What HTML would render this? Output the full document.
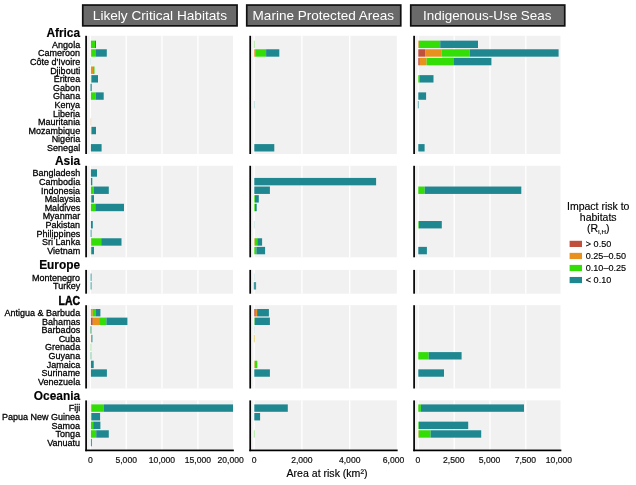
<!DOCTYPE html>
<html><head><meta charset="utf-8"><title>Area at risk</title>
<style>html,body{margin:0;padding:0;background:#fff}svg{display:block}text{font-family:"Liberation Sans",sans-serif}</style></head>
<body>
<svg width="636" height="485" viewBox="0 0 636 485" style="will-change:transform">
<rect x="0" y="0" width="636" height="485" fill="#ffffff"/>
<rect x="82.75" y="5.05" width="154.30" height="20.8" fill="#696969" stroke="#101010" stroke-width="1.7"/>
<text x="159.90" y="20.3" font-size="13.65" fill="#ffffff" text-anchor="middle">Likely Critical Habitats</text>
<rect x="246.75" y="5.05" width="154.00" height="20.8" fill="#696969" stroke="#101010" stroke-width="1.7"/>
<text x="323.35" y="20.3" font-size="13.55" fill="#ffffff" text-anchor="middle">Marine Protected Areas</text>
<rect x="410.75" y="5.05" width="154.00" height="20.8" fill="#696969" stroke="#101010" stroke-width="1.7"/>
<text x="487.25" y="20.3" font-size="13.45" fill="#ffffff" text-anchor="middle">Indigenous-Use Seas</text>
<rect x="86.90" y="35.80" width="146.10" height="118.20" fill="#f1f1f1"/>
<rect x="89.75" y="35.80" width="1.3" height="118.20" fill="#ffffff"/>
<rect x="125.55" y="35.80" width="1.3" height="118.20" fill="#ffffff"/>
<rect x="161.35" y="35.80" width="1.3" height="118.20" fill="#ffffff"/>
<rect x="197.25" y="35.80" width="1.3" height="118.20" fill="#ffffff"/>
<rect x="85.25" y="35.80" width="1.7" height="118.20" fill="#000000"/>
<rect x="90.90" y="40.65" width="4.10" height="7.4" fill="#32de06"/>
<rect x="95.00" y="40.65" width="1.00" height="7.4" fill="#1f8790"/>
<rect x="90.90" y="49.27" width="1.10" height="7.4" fill="#e8911c"/>
<rect x="92.00" y="49.27" width="4.00" height="7.4" fill="#32de06"/>
<rect x="96.00" y="49.27" width="10.80" height="7.4" fill="#1f8790"/>
<rect x="90.40" y="57.89" width="0.60" height="7.4" fill="#c5e3e3"/>
<rect x="90.90" y="66.51" width="2.10" height="7.4" fill="#e8911c"/>
<rect x="93.00" y="66.51" width="1.50" height="7.4" fill="#32de06"/>
<rect x="90.90" y="75.13" width="0.90" height="7.4" fill="#32de06"/>
<rect x="91.80" y="75.13" width="6.20" height="7.4" fill="#1f8790"/>
<rect x="90.40" y="83.75" width="1.50" height="7.4" fill="#4a9ea4"/>
<rect x="90.90" y="92.37" width="4.90" height="7.4" fill="#32de06"/>
<rect x="95.80" y="92.37" width="7.90" height="7.4" fill="#1f8790"/>
<rect x="90.40" y="118.23" width="0.80" height="7.4" fill="#ecd9c0"/>
<rect x="90.90" y="126.85" width="0.30" height="7.4" fill="#e8911c"/>
<rect x="91.20" y="126.85" width="0.70" height="7.4" fill="#32de06"/>
<rect x="91.90" y="126.85" width="4.10" height="7.4" fill="#1f8790"/>
<rect x="90.90" y="144.09" width="10.70" height="7.4" fill="#1f8790"/>
<rect x="86.90" y="165.80" width="146.10" height="91.50" fill="#f1f1f1"/>
<rect x="89.75" y="165.80" width="1.3" height="91.50" fill="#ffffff"/>
<rect x="125.55" y="165.80" width="1.3" height="91.50" fill="#ffffff"/>
<rect x="161.35" y="165.80" width="1.3" height="91.50" fill="#ffffff"/>
<rect x="197.25" y="165.80" width="1.3" height="91.50" fill="#ffffff"/>
<rect x="85.25" y="165.80" width="1.7" height="91.50" fill="#000000"/>
<rect x="90.90" y="169.30" width="6.10" height="7.4" fill="#1f8790"/>
<rect x="90.90" y="177.92" width="1.40" height="7.4" fill="#1f8790"/>
<rect x="90.90" y="186.54" width="2.90" height="7.4" fill="#32de06"/>
<rect x="93.80" y="186.54" width="15.00" height="7.4" fill="#1f8790"/>
<rect x="90.90" y="195.16" width="0.50" height="7.4" fill="#32de06"/>
<rect x="91.40" y="195.16" width="2.60" height="7.4" fill="#1f8790"/>
<rect x="90.90" y="203.78" width="0.00" height="7.4" fill="#e8911c"/>
<rect x="90.90" y="203.78" width="4.40" height="7.4" fill="#32de06"/>
<rect x="95.30" y="203.78" width="28.70" height="7.4" fill="#1f8790"/>
<rect x="90.90" y="221.02" width="1.90" height="7.4" fill="#1f8790"/>
<rect x="90.40" y="229.64" width="1.50" height="7.4" fill="#7fc0c3"/>
<rect x="90.90" y="238.26" width="0.30" height="7.4" fill="#e8911c"/>
<rect x="91.20" y="238.26" width="10.00" height="7.4" fill="#32de06"/>
<rect x="101.20" y="238.26" width="20.30" height="7.4" fill="#1f8790"/>
<rect x="90.90" y="246.88" width="0.40" height="7.4" fill="#32de06"/>
<rect x="91.30" y="246.88" width="2.70" height="7.4" fill="#1f8790"/>
<rect x="86.90" y="269.90" width="146.10" height="23.80" fill="#f1f1f1"/>
<rect x="89.75" y="269.90" width="1.3" height="23.80" fill="#ffffff"/>
<rect x="125.55" y="269.90" width="1.3" height="23.80" fill="#ffffff"/>
<rect x="161.35" y="269.90" width="1.3" height="23.80" fill="#ffffff"/>
<rect x="197.25" y="269.90" width="1.3" height="23.80" fill="#ffffff"/>
<rect x="85.25" y="269.90" width="1.7" height="23.80" fill="#000000"/>
<rect x="90.40" y="273.50" width="1.50" height="7.4" fill="#7fc0c3"/>
<rect x="90.40" y="282.12" width="1.50" height="7.4" fill="#7fc0c3"/>
<rect x="86.90" y="305.20" width="146.10" height="83.30" fill="#f1f1f1"/>
<rect x="89.75" y="305.20" width="1.3" height="83.30" fill="#ffffff"/>
<rect x="125.55" y="305.20" width="1.3" height="83.30" fill="#ffffff"/>
<rect x="161.35" y="305.20" width="1.3" height="83.30" fill="#ffffff"/>
<rect x="197.25" y="305.20" width="1.3" height="83.30" fill="#ffffff"/>
<rect x="85.25" y="305.20" width="1.7" height="83.30" fill="#000000"/>
<rect x="90.90" y="309.00" width="0.70" height="7.4" fill="#c0503c"/>
<rect x="91.60" y="309.00" width="1.20" height="7.4" fill="#e8911c"/>
<rect x="92.80" y="309.00" width="3.20" height="7.4" fill="#32de06"/>
<rect x="96.00" y="309.00" width="4.40" height="7.4" fill="#1f8790"/>
<rect x="90.90" y="317.62" width="1.90" height="7.4" fill="#c0503c"/>
<rect x="92.80" y="317.62" width="6.30" height="7.4" fill="#e8911c"/>
<rect x="99.10" y="317.62" width="7.30" height="7.4" fill="#32de06"/>
<rect x="106.40" y="317.62" width="21.00" height="7.4" fill="#1f8790"/>
<rect x="90.40" y="326.24" width="1.10" height="7.4" fill="#4caf78"/>
<rect x="90.90" y="334.86" width="0.20" height="7.4" fill="#e8911c"/>
<rect x="91.10" y="334.86" width="0.90" height="7.4" fill="#32de06"/>
<rect x="92.00" y="334.86" width="0.40" height="7.4" fill="#1f8790"/>
<rect x="90.40" y="343.48" width="1.00" height="7.4" fill="#b5e6b0"/>
<rect x="90.40" y="352.10" width="1.10" height="7.4" fill="#8fd0b0"/>
<rect x="90.90" y="360.72" width="2.80" height="7.4" fill="#1f8790"/>
<rect x="90.90" y="369.34" width="16.00" height="7.4" fill="#1f8790"/>
<rect x="86.90" y="400.40" width="146.10" height="49.90" fill="#f1f1f1"/>
<rect x="89.75" y="400.40" width="1.3" height="49.90" fill="#ffffff"/>
<rect x="125.55" y="400.40" width="1.3" height="49.90" fill="#ffffff"/>
<rect x="161.35" y="400.40" width="1.3" height="49.90" fill="#ffffff"/>
<rect x="197.25" y="400.40" width="1.3" height="49.90" fill="#ffffff"/>
<rect x="85.25" y="400.40" width="1.7" height="50.80" fill="#000000"/>
<rect x="90.90" y="404.40" width="0.60" height="7.4" fill="#e8911c"/>
<rect x="91.50" y="404.40" width="12.40" height="7.4" fill="#32de06"/>
<rect x="103.90" y="404.40" width="129.10" height="7.4" fill="#1f8790"/>
<rect x="90.90" y="413.02" width="1.10" height="7.4" fill="#32de06"/>
<rect x="92.00" y="413.02" width="8.10" height="7.4" fill="#1f8790"/>
<rect x="90.90" y="421.64" width="2.30" height="7.4" fill="#32de06"/>
<rect x="93.20" y="421.64" width="7.20" height="7.4" fill="#1f8790"/>
<rect x="90.90" y="430.26" width="5.30" height="7.4" fill="#32de06"/>
<rect x="96.20" y="430.26" width="12.60" height="7.4" fill="#1f8790"/>
<rect x="90.90" y="438.88" width="0.90" height="7.4" fill="#1f8790"/>
<rect x="85.25" y="449.55" width="148.60" height="1.7" fill="#000000"/>
<text x="90.50" y="462.8" font-size="8.6" fill="#111" stroke="#111" stroke-width="0.2" text-anchor="middle">0</text>
<text x="126.20" y="462.8" font-size="8.6" fill="#111" stroke="#111" stroke-width="0.2" text-anchor="middle">5,000</text>
<text x="162.00" y="462.8" font-size="8.6" fill="#111" stroke="#111" stroke-width="0.2" text-anchor="middle">10,000</text>
<text x="197.90" y="462.8" font-size="8.6" fill="#111" stroke="#111" stroke-width="0.2" text-anchor="middle">15,000</text>
<text x="230.60" y="462.8" font-size="8.6" fill="#111" stroke="#111" stroke-width="0.2" text-anchor="middle">20,000</text>
<rect x="251.00" y="35.80" width="145.80" height="118.20" fill="#f1f1f1"/>
<rect x="253.45" y="35.80" width="1.3" height="118.20" fill="#ffffff"/>
<rect x="301.25" y="35.80" width="1.3" height="118.20" fill="#ffffff"/>
<rect x="349.05" y="35.80" width="1.3" height="118.20" fill="#ffffff"/>
<rect x="249.35" y="35.80" width="1.7" height="118.20" fill="#000000"/>
<rect x="253.80" y="40.65" width="1.10" height="7.4" fill="#b5ecaa"/>
<rect x="254.30" y="49.27" width="0.90" height="7.4" fill="#e8911c"/>
<rect x="255.20" y="49.27" width="10.90" height="7.4" fill="#32de06"/>
<rect x="266.10" y="49.27" width="13.20" height="7.4" fill="#1f8790"/>
<rect x="253.80" y="100.99" width="1.10" height="7.4" fill="#c5e3e3"/>
<rect x="254.30" y="144.09" width="20.00" height="7.4" fill="#1f8790"/>
<rect x="251.00" y="165.80" width="145.80" height="91.50" fill="#f1f1f1"/>
<rect x="253.45" y="165.80" width="1.3" height="91.50" fill="#ffffff"/>
<rect x="301.25" y="165.80" width="1.3" height="91.50" fill="#ffffff"/>
<rect x="349.05" y="165.80" width="1.3" height="91.50" fill="#ffffff"/>
<rect x="249.35" y="165.80" width="1.7" height="91.50" fill="#000000"/>
<rect x="254.30" y="177.92" width="121.80" height="7.4" fill="#1f8790"/>
<rect x="254.30" y="186.54" width="15.60" height="7.4" fill="#1f8790"/>
<rect x="254.30" y="195.16" width="0.70" height="7.4" fill="#32de06"/>
<rect x="255.00" y="195.16" width="3.80" height="7.4" fill="#1f8790"/>
<rect x="254.30" y="203.78" width="0.70" height="7.4" fill="#32de06"/>
<rect x="255.00" y="203.78" width="1.70" height="7.4" fill="#1f8790"/>
<rect x="253.80" y="221.02" width="1.10" height="7.4" fill="#d5ebeb"/>
<rect x="254.30" y="238.26" width="0.50" height="7.4" fill="#e8911c"/>
<rect x="254.80" y="238.26" width="2.50" height="7.4" fill="#32de06"/>
<rect x="257.30" y="238.26" width="4.80" height="7.4" fill="#1f8790"/>
<rect x="254.30" y="246.88" width="2.10" height="7.4" fill="#32de06"/>
<rect x="256.40" y="246.88" width="8.70" height="7.4" fill="#1f8790"/>
<rect x="251.00" y="269.90" width="145.80" height="23.80" fill="#f1f1f1"/>
<rect x="253.45" y="269.90" width="1.3" height="23.80" fill="#ffffff"/>
<rect x="301.25" y="269.90" width="1.3" height="23.80" fill="#ffffff"/>
<rect x="349.05" y="269.90" width="1.3" height="23.80" fill="#ffffff"/>
<rect x="249.35" y="269.90" width="1.7" height="23.80" fill="#000000"/>
<rect x="253.80" y="273.50" width="1.10" height="7.4" fill="#dfeeee"/>
<rect x="253.80" y="282.12" width="2.30" height="7.4" fill="#3d9aa0"/>
<rect x="251.00" y="305.20" width="145.80" height="83.30" fill="#f1f1f1"/>
<rect x="253.45" y="305.20" width="1.3" height="83.30" fill="#ffffff"/>
<rect x="301.25" y="305.20" width="1.3" height="83.30" fill="#ffffff"/>
<rect x="349.05" y="305.20" width="1.3" height="83.30" fill="#ffffff"/>
<rect x="249.35" y="305.20" width="1.7" height="83.30" fill="#000000"/>
<rect x="254.30" y="309.00" width="1.50" height="7.4" fill="#c0503c"/>
<rect x="255.80" y="309.00" width="1.30" height="7.4" fill="#e8911c"/>
<rect x="257.10" y="309.00" width="11.80" height="7.4" fill="#1f8790"/>
<rect x="254.30" y="317.62" width="0.40" height="7.4" fill="#32de06"/>
<rect x="254.70" y="317.62" width="15.20" height="7.4" fill="#1f8790"/>
<rect x="253.80" y="326.24" width="1.10" height="7.4" fill="#dfeeee"/>
<rect x="253.80" y="334.86" width="1.10" height="7.4" fill="#e8d88a"/>
<rect x="254.30" y="360.72" width="0.50" height="7.4" fill="#e8911c"/>
<rect x="254.80" y="360.72" width="2.50" height="7.4" fill="#32de06"/>
<rect x="254.30" y="369.34" width="15.60" height="7.4" fill="#1f8790"/>
<rect x="251.00" y="400.40" width="145.80" height="49.90" fill="#f1f1f1"/>
<rect x="253.45" y="400.40" width="1.3" height="49.90" fill="#ffffff"/>
<rect x="301.25" y="400.40" width="1.3" height="49.90" fill="#ffffff"/>
<rect x="349.05" y="400.40" width="1.3" height="49.90" fill="#ffffff"/>
<rect x="249.35" y="400.40" width="1.7" height="50.80" fill="#000000"/>
<rect x="254.30" y="404.40" width="33.50" height="7.4" fill="#1f8790"/>
<rect x="254.30" y="413.02" width="5.80" height="7.4" fill="#1f8790"/>
<rect x="253.80" y="430.26" width="1.10" height="7.4" fill="#b5ecaa"/>
<rect x="249.35" y="449.55" width="148.30" height="1.7" fill="#000000"/>
<text x="254.20" y="462.8" font-size="8.6" fill="#111" stroke="#111" stroke-width="0.2" text-anchor="middle">0</text>
<text x="301.90" y="462.8" font-size="8.6" fill="#111" stroke="#111" stroke-width="0.2" text-anchor="middle">2,000</text>
<text x="349.70" y="462.8" font-size="8.6" fill="#111" stroke="#111" stroke-width="0.2" text-anchor="middle">4,000</text>
<text x="393.50" y="462.8" font-size="8.6" fill="#111" stroke="#111" stroke-width="0.2" text-anchor="middle">6,000</text>
<rect x="414.90" y="35.80" width="145.60" height="118.20" fill="#f1f1f1"/>
<rect x="417.55" y="35.80" width="1.3" height="118.20" fill="#ffffff"/>
<rect x="453.55" y="35.80" width="1.3" height="118.20" fill="#ffffff"/>
<rect x="489.35" y="35.80" width="1.3" height="118.20" fill="#ffffff"/>
<rect x="525.15" y="35.80" width="1.3" height="118.20" fill="#ffffff"/>
<rect x="413.25" y="35.80" width="1.7" height="118.20" fill="#000000"/>
<rect x="418.30" y="40.65" width="0.60" height="7.4" fill="#e8911c"/>
<rect x="418.90" y="40.65" width="21.30" height="7.4" fill="#32de06"/>
<rect x="440.20" y="40.65" width="37.80" height="7.4" fill="#1f8790"/>
<rect x="418.30" y="49.27" width="6.80" height="7.4" fill="#c0503c"/>
<rect x="425.10" y="49.27" width="16.30" height="7.4" fill="#e8911c"/>
<rect x="441.40" y="49.27" width="28.30" height="7.4" fill="#32de06"/>
<rect x="469.70" y="49.27" width="88.90" height="7.4" fill="#1f8790"/>
<rect x="418.30" y="57.89" width="1.50" height="7.4" fill="#c0503c"/>
<rect x="419.80" y="57.89" width="6.80" height="7.4" fill="#e8911c"/>
<rect x="426.60" y="57.89" width="27.40" height="7.4" fill="#32de06"/>
<rect x="454.00" y="57.89" width="37.40" height="7.4" fill="#1f8790"/>
<rect x="418.30" y="75.13" width="1.70" height="7.4" fill="#32de06"/>
<rect x="420.00" y="75.13" width="13.50" height="7.4" fill="#1f8790"/>
<rect x="418.30" y="92.37" width="7.80" height="7.4" fill="#1f8790"/>
<rect x="417.80" y="100.99" width="1.00" height="7.4" fill="#6ab2b6"/>
<rect x="418.30" y="144.09" width="6.30" height="7.4" fill="#1f8790"/>
<rect x="414.90" y="165.80" width="145.60" height="91.50" fill="#f1f1f1"/>
<rect x="417.55" y="165.80" width="1.3" height="91.50" fill="#ffffff"/>
<rect x="453.55" y="165.80" width="1.3" height="91.50" fill="#ffffff"/>
<rect x="489.35" y="165.80" width="1.3" height="91.50" fill="#ffffff"/>
<rect x="525.15" y="165.80" width="1.3" height="91.50" fill="#ffffff"/>
<rect x="413.25" y="165.80" width="1.7" height="91.50" fill="#000000"/>
<rect x="418.30" y="186.54" width="6.40" height="7.4" fill="#32de06"/>
<rect x="424.70" y="186.54" width="96.60" height="7.4" fill="#1f8790"/>
<rect x="418.30" y="221.02" width="0.60" height="7.4" fill="#32de06"/>
<rect x="418.90" y="221.02" width="22.90" height="7.4" fill="#1f8790"/>
<rect x="418.30" y="246.88" width="8.60" height="7.4" fill="#1f8790"/>
<rect x="414.90" y="269.90" width="145.60" height="23.80" fill="#f1f1f1"/>
<rect x="417.55" y="269.90" width="1.3" height="23.80" fill="#ffffff"/>
<rect x="453.55" y="269.90" width="1.3" height="23.80" fill="#ffffff"/>
<rect x="489.35" y="269.90" width="1.3" height="23.80" fill="#ffffff"/>
<rect x="525.15" y="269.90" width="1.3" height="23.80" fill="#ffffff"/>
<rect x="413.25" y="269.90" width="1.7" height="23.80" fill="#000000"/>
<rect x="414.90" y="305.20" width="145.60" height="83.30" fill="#f1f1f1"/>
<rect x="417.55" y="305.20" width="1.3" height="83.30" fill="#ffffff"/>
<rect x="453.55" y="305.20" width="1.3" height="83.30" fill="#ffffff"/>
<rect x="489.35" y="305.20" width="1.3" height="83.30" fill="#ffffff"/>
<rect x="525.15" y="305.20" width="1.3" height="83.30" fill="#ffffff"/>
<rect x="413.25" y="305.20" width="1.7" height="83.30" fill="#000000"/>
<rect x="418.30" y="352.10" width="10.40" height="7.4" fill="#32de06"/>
<rect x="428.70" y="352.10" width="32.90" height="7.4" fill="#1f8790"/>
<rect x="418.30" y="369.34" width="25.70" height="7.4" fill="#1f8790"/>
<rect x="414.90" y="400.40" width="145.60" height="49.90" fill="#f1f1f1"/>
<rect x="417.55" y="400.40" width="1.3" height="49.90" fill="#ffffff"/>
<rect x="453.55" y="400.40" width="1.3" height="49.90" fill="#ffffff"/>
<rect x="489.35" y="400.40" width="1.3" height="49.90" fill="#ffffff"/>
<rect x="525.15" y="400.40" width="1.3" height="49.90" fill="#ffffff"/>
<rect x="413.25" y="400.40" width="1.7" height="50.80" fill="#000000"/>
<rect x="418.30" y="404.40" width="2.60" height="7.4" fill="#32de06"/>
<rect x="420.90" y="404.40" width="103.10" height="7.4" fill="#1f8790"/>
<rect x="418.30" y="421.64" width="0.60" height="7.4" fill="#32de06"/>
<rect x="418.90" y="421.64" width="49.30" height="7.4" fill="#1f8790"/>
<rect x="418.30" y="430.26" width="0.40" height="7.4" fill="#e8911c"/>
<rect x="418.70" y="430.26" width="11.90" height="7.4" fill="#32de06"/>
<rect x="430.60" y="430.26" width="50.60" height="7.4" fill="#1f8790"/>
<rect x="413.25" y="449.55" width="148.10" height="1.7" fill="#000000"/>
<text x="418.00" y="462.8" font-size="8.6" fill="#111" stroke="#111" stroke-width="0.2" text-anchor="middle">0</text>
<text x="453.80" y="462.8" font-size="8.6" fill="#111" stroke="#111" stroke-width="0.2" text-anchor="middle">2,500</text>
<text x="489.60" y="462.8" font-size="8.6" fill="#111" stroke="#111" stroke-width="0.2" text-anchor="middle">5,000</text>
<text x="525.40" y="462.8" font-size="8.6" fill="#111" stroke="#111" stroke-width="0.2" text-anchor="middle">7,500</text>
<text x="559.00" y="462.8" font-size="8.6" fill="#111" stroke="#111" stroke-width="0.2" text-anchor="middle">10,000</text>
<text x="80.1" y="36.80" font-size="11.9" font-weight="bold" fill="#000" stroke="#000" stroke-width="0.15" text-anchor="end">Africa</text>
<text x="80.15" y="47.65" font-size="9.0" fill="#000" stroke="#000" stroke-width="0.28" text-anchor="end">Angola</text>
<text x="80.15" y="56.27" font-size="9.0" fill="#000" stroke="#000" stroke-width="0.28" text-anchor="end">Cameroon</text>
<text x="80.15" y="64.89" font-size="9.0" fill="#000" stroke="#000" stroke-width="0.28" text-anchor="end">Côte d'Ivoire</text>
<text x="80.15" y="73.51" font-size="9.0" fill="#000" stroke="#000" stroke-width="0.28" text-anchor="end">Djibouti</text>
<text x="80.15" y="82.13" font-size="9.0" fill="#000" stroke="#000" stroke-width="0.28" text-anchor="end">Eritrea</text>
<text x="80.15" y="90.75" font-size="9.0" fill="#000" stroke="#000" stroke-width="0.28" text-anchor="end">Gabon</text>
<text x="80.15" y="99.37" font-size="9.0" fill="#000" stroke="#000" stroke-width="0.28" text-anchor="end">Ghana</text>
<text x="80.15" y="107.99" font-size="9.0" fill="#000" stroke="#000" stroke-width="0.28" text-anchor="end">Kenya</text>
<text x="80.15" y="116.61" font-size="9.0" fill="#000" stroke="#000" stroke-width="0.28" text-anchor="end">Liberia</text>
<text x="80.15" y="125.23" font-size="9.0" fill="#000" stroke="#000" stroke-width="0.28" text-anchor="end">Mauritania</text>
<text x="80.15" y="133.85" font-size="9.0" fill="#000" stroke="#000" stroke-width="0.28" text-anchor="end">Mozambique</text>
<text x="80.15" y="142.47" font-size="9.0" fill="#000" stroke="#000" stroke-width="0.28" text-anchor="end">Nigeria</text>
<text x="80.15" y="151.09" font-size="9.0" fill="#000" stroke="#000" stroke-width="0.28" text-anchor="end">Senegal</text>
<text x="80.1" y="165.40" font-size="11.9" font-weight="bold" fill="#000" stroke="#000" stroke-width="0.15" text-anchor="end">Asia</text>
<text x="80.15" y="176.30" font-size="9.0" fill="#000" stroke="#000" stroke-width="0.28" text-anchor="end">Bangladesh</text>
<text x="80.15" y="184.92" font-size="9.0" fill="#000" stroke="#000" stroke-width="0.28" text-anchor="end">Cambodia</text>
<text x="80.15" y="193.54" font-size="9.0" fill="#000" stroke="#000" stroke-width="0.28" text-anchor="end">Indonesia</text>
<text x="80.15" y="202.16" font-size="9.0" fill="#000" stroke="#000" stroke-width="0.28" text-anchor="end">Malaysia</text>
<text x="80.15" y="210.78" font-size="9.0" fill="#000" stroke="#000" stroke-width="0.28" text-anchor="end">Maldives</text>
<text x="80.15" y="219.40" font-size="9.0" fill="#000" stroke="#000" stroke-width="0.28" text-anchor="end">Myanmar</text>
<text x="80.15" y="228.02" font-size="9.0" fill="#000" stroke="#000" stroke-width="0.28" text-anchor="end">Pakistan</text>
<text x="80.15" y="236.64" font-size="9.0" fill="#000" stroke="#000" stroke-width="0.28" text-anchor="end">Philippines</text>
<text x="80.15" y="245.26" font-size="9.0" fill="#000" stroke="#000" stroke-width="0.28" text-anchor="end">Sri Lanka</text>
<text x="80.15" y="253.88" font-size="9.0" fill="#000" stroke="#000" stroke-width="0.28" text-anchor="end">Vietnam</text>
<text x="80.1" y="269.00" font-size="11.9" font-weight="bold" fill="#000" stroke="#000" stroke-width="0.15" text-anchor="end">Europe</text>
<text x="80.15" y="280.50" font-size="9.0" fill="#000" stroke="#000" stroke-width="0.28" text-anchor="end">Montenegro</text>
<text x="80.15" y="289.12" font-size="9.0" fill="#000" stroke="#000" stroke-width="0.28" text-anchor="end">Turkey</text>
<text x="80.1" y="304.90" font-size="11.9" font-weight="bold" fill="#000" stroke="#000" stroke-width="0.45" text-anchor="end" textLength="21.5" lengthAdjust="spacingAndGlyphs">LAC</text>
<text x="80.15" y="316.00" font-size="9.0" fill="#000" stroke="#000" stroke-width="0.28" text-anchor="end">Antigua &amp; Barbuda</text>
<text x="80.15" y="324.62" font-size="9.0" fill="#000" stroke="#000" stroke-width="0.28" text-anchor="end">Bahamas</text>
<text x="80.15" y="333.24" font-size="9.0" fill="#000" stroke="#000" stroke-width="0.28" text-anchor="end">Barbados</text>
<text x="80.15" y="341.86" font-size="9.0" fill="#000" stroke="#000" stroke-width="0.28" text-anchor="end">Cuba</text>
<text x="80.15" y="350.48" font-size="9.0" fill="#000" stroke="#000" stroke-width="0.28" text-anchor="end">Grenada</text>
<text x="80.15" y="359.10" font-size="9.0" fill="#000" stroke="#000" stroke-width="0.28" text-anchor="end">Guyana</text>
<text x="80.15" y="367.72" font-size="9.0" fill="#000" stroke="#000" stroke-width="0.28" text-anchor="end">Jamaica</text>
<text x="80.15" y="376.34" font-size="9.0" fill="#000" stroke="#000" stroke-width="0.28" text-anchor="end">Suriname</text>
<text x="80.15" y="384.96" font-size="9.0" fill="#000" stroke="#000" stroke-width="0.28" text-anchor="end">Venezuela</text>
<text x="80.1" y="399.50" font-size="11.9" font-weight="bold" fill="#000" stroke="#000" stroke-width="0.15" text-anchor="end">Oceania</text>
<text x="80.15" y="411.40" font-size="9.0" fill="#000" stroke="#000" stroke-width="0.28" text-anchor="end">Fiji</text>
<text x="80.15" y="420.02" font-size="9.0" fill="#000" stroke="#000" stroke-width="0.28" text-anchor="end">Papua New Guinea</text>
<text x="80.15" y="428.64" font-size="9.0" fill="#000" stroke="#000" stroke-width="0.28" text-anchor="end">Samoa</text>
<text x="80.15" y="437.26" font-size="9.0" fill="#000" stroke="#000" stroke-width="0.28" text-anchor="end">Tonga</text>
<text x="80.15" y="445.88" font-size="9.0" fill="#000" stroke="#000" stroke-width="0.28" text-anchor="end">Vanuatu</text>
<text x="327.0" y="477.2" font-size="10.55" stroke="#000" stroke-width="0.15" fill="#000" text-anchor="middle">Area at risk (km²)</text>
<text x="598.2" y="210.2" font-size="10.5" fill="#000" stroke="#000" stroke-width="0.15" text-anchor="middle">Impact risk to</text>
<text x="598.2" y="221.3" font-size="10.5" fill="#000" stroke="#000" stroke-width="0.15" text-anchor="middle">habitats</text>
<text x="598.2" y="232.3" font-size="10.5" fill="#000" stroke="#000" stroke-width="0.15" text-anchor="middle">(R<tspan font-size="6.2" dy="1.8">I,H</tspan><tspan dy="-1.8">)</tspan></text>
<rect x="569.6" y="240.80" width="12.4" height="6.2" fill="#c0503c"/>
<text x="585.8" y="247.10" font-size="9.05" fill="#000" stroke="#000" stroke-width="0.15">&gt; 0.50</text>
<rect x="569.6" y="252.85" width="12.4" height="6.2" fill="#e8911c"/>
<text x="585.8" y="259.15" font-size="9.05" fill="#000" stroke="#000" stroke-width="0.15">0.25–0.50</text>
<rect x="569.6" y="264.90" width="12.4" height="6.2" fill="#32de06"/>
<text x="585.8" y="271.20" font-size="9.05" fill="#000" stroke="#000" stroke-width="0.15">0.10–0.25</text>
<rect x="569.6" y="276.95" width="12.4" height="6.2" fill="#1f8790"/>
<text x="585.8" y="283.25" font-size="9.05" fill="#000" stroke="#000" stroke-width="0.15">&lt; 0.10</text>
</svg>
</body></html>
